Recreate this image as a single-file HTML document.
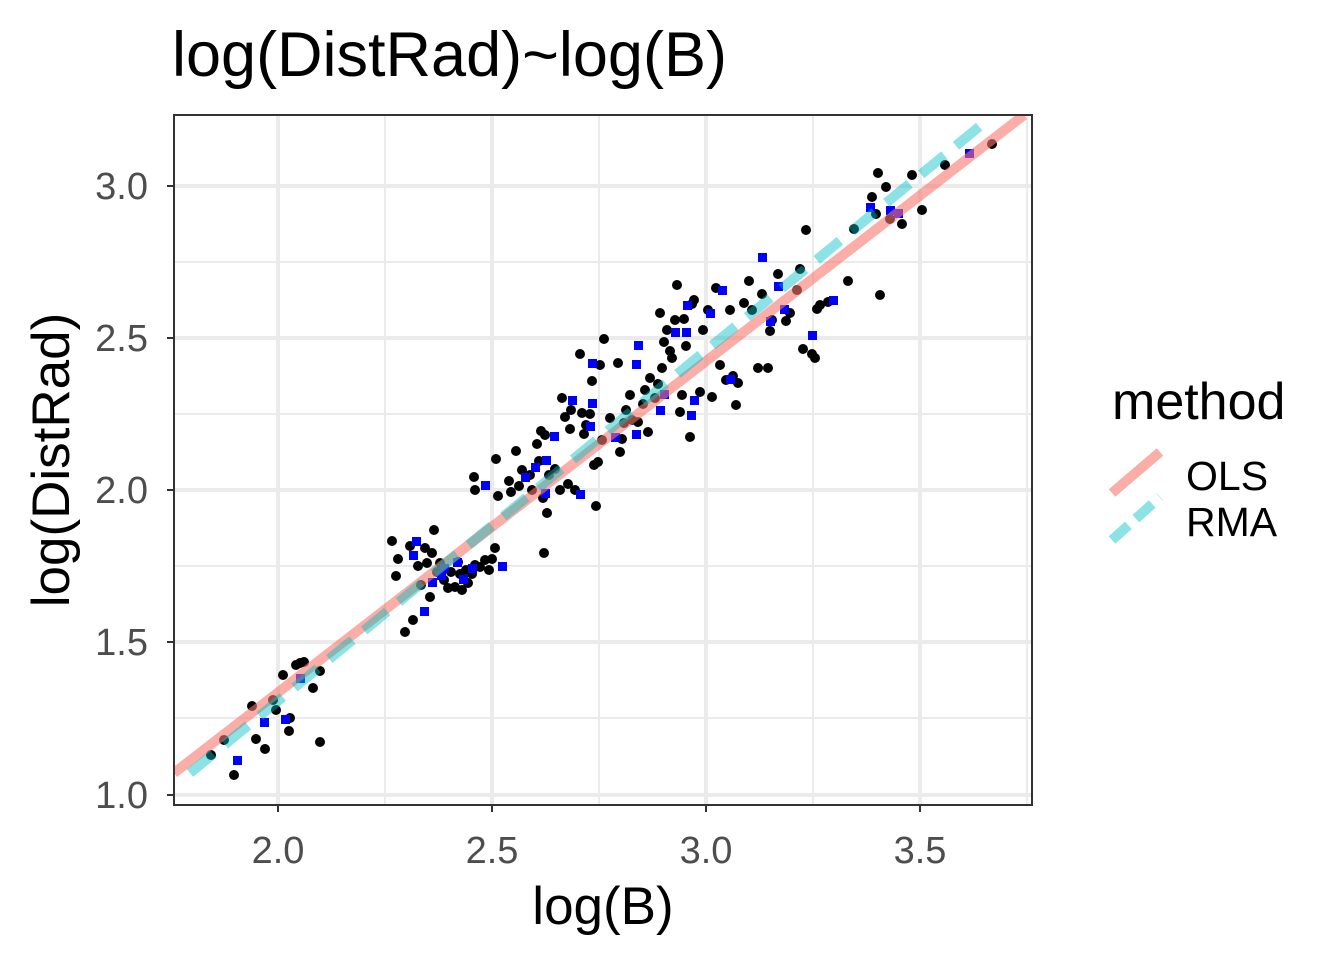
<!DOCTYPE html>
<html><head><style>body{margin:0;background:#fff}svg{display:block}text{font-family:"Liberation Sans",Arial,sans-serif}</style></head><body>
<svg width="1344" height="960" xmlns="http://www.w3.org/2000/svg">
<rect width="1344" height="960" fill="#fff"/>
<text x="172" y="76" font-size="63" fill="#000">log(DistRad)~log(B)</text>
<g stroke="#ebebeb" stroke-width="2">
<line x1="385" y1="115" x2="385" y2="805"/><line x1="599" y1="115" x2="599" y2="805"/><line x1="813" y1="115" x2="813" y2="805"/><line x1="1027" y1="115" x2="1027" y2="805"/>
<line x1="174" y1="262" x2="1032" y2="262"/><line x1="174" y1="414" x2="1032" y2="414"/><line x1="174" y1="566" x2="1032" y2="566"/><line x1="174" y1="718" x2="1032" y2="718"/>
</g>
<g stroke="#ebebeb" stroke-width="4">
<line x1="278" y1="115" x2="278" y2="805"/><line x1="492" y1="115" x2="492" y2="805"/><line x1="706" y1="115" x2="706" y2="805"/><line x1="920" y1="115" x2="920" y2="805"/>
<line x1="174" y1="186" x2="1032" y2="186"/><line x1="174" y1="338" x2="1032" y2="338"/><line x1="174" y1="490" x2="1032" y2="490"/><line x1="174" y1="642" x2="1032" y2="642"/><line x1="174" y1="795" x2="1032" y2="795"/>
</g>
<g fill="#000">
<circle cx="211" cy="755" r="5"/><circle cx="224" cy="740" r="5"/><circle cx="234" cy="775" r="5"/><circle cx="252" cy="706" r="5"/><circle cx="256" cy="739" r="5"/><circle cx="265" cy="749" r="5"/><circle cx="273" cy="700" r="5"/><circle cx="276" cy="710" r="5"/><circle cx="283" cy="675" r="5"/><circle cx="289" cy="731" r="5"/><circle cx="290" cy="718" r="5"/><circle cx="296" cy="665" r="5"/><circle cx="300" cy="663" r="5"/><circle cx="304" cy="662" r="5"/><circle cx="313" cy="688" r="5"/><circle cx="320" cy="671" r="5"/><circle cx="320" cy="742" r="5"/><circle cx="392" cy="541" r="5"/><circle cx="398" cy="559" r="5"/><circle cx="396" cy="576" r="5"/><circle cx="405" cy="632" r="5"/><circle cx="410" cy="546" r="5"/><circle cx="413" cy="620" r="5"/><circle cx="418" cy="566" r="5"/><circle cx="421" cy="585" r="5"/><circle cx="425" cy="548" r="5"/><circle cx="427" cy="563" r="5"/><circle cx="430" cy="597" r="5"/><circle cx="434" cy="530" r="5"/><circle cx="432" cy="553" r="5"/><circle cx="437" cy="572" r="5"/><circle cx="440" cy="563" r="5"/><circle cx="444" cy="580" r="5"/><circle cx="448" cy="588" r="5"/><circle cx="451" cy="572" r="5"/><circle cx="455" cy="587" r="5"/><circle cx="458" cy="562" r="5"/><circle cx="460" cy="574" r="5"/><circle cx="462" cy="590" r="5"/><circle cx="466" cy="570" r="5"/><circle cx="468" cy="583" r="5"/><circle cx="472" cy="574" r="5"/><circle cx="475" cy="565" r="5"/><circle cx="480" cy="567" r="5"/><circle cx="485" cy="560" r="5"/><circle cx="489" cy="570" r="5"/><circle cx="492" cy="559" r="5"/><circle cx="495" cy="548" r="5"/><circle cx="474" cy="477" r="5"/><circle cx="475" cy="490" r="5"/><circle cx="496" cy="459" r="5"/><circle cx="498" cy="496" r="5"/><circle cx="509" cy="481" r="5"/><circle cx="511" cy="492" r="5"/><circle cx="516" cy="451" r="5"/><circle cx="519" cy="486" r="5"/><circle cx="522" cy="470" r="5"/><circle cx="530" cy="475" r="5"/><circle cx="532" cy="490" r="5"/><circle cx="537" cy="444" r="5"/><circle cx="539" cy="461" r="5"/><circle cx="541" cy="431" r="5"/><circle cx="543" cy="498" r="5"/><circle cx="545" cy="435" r="5"/><circle cx="547" cy="513" r="5"/><circle cx="549" cy="475" r="5"/><circle cx="555" cy="469" r="5"/><circle cx="560" cy="490" r="5"/><circle cx="544" cy="553" r="5"/><circle cx="562" cy="398" r="5"/><circle cx="565" cy="417" r="5"/><circle cx="568" cy="484" r="5"/><circle cx="570" cy="429" r="5"/><circle cx="571" cy="410" r="5"/><circle cx="575" cy="490" r="5"/><circle cx="580" cy="354" r="5"/><circle cx="582" cy="413" r="5"/><circle cx="584" cy="434" r="5"/><circle cx="586" cy="425" r="5"/><circle cx="590" cy="414" r="5"/><circle cx="592" cy="381" r="5"/><circle cx="594" cy="465" r="5"/><circle cx="596" cy="506" r="5"/><circle cx="598" cy="462" r="5"/><circle cx="600" cy="365" r="5"/><circle cx="602" cy="440" r="5"/><circle cx="604" cy="339" r="5"/><circle cx="610" cy="418" r="5"/><circle cx="618" cy="363" r="5"/><circle cx="620" cy="452" r="5"/><circle cx="622" cy="439" r="5"/><circle cx="624" cy="423" r="5"/><circle cx="626" cy="410" r="5"/><circle cx="630" cy="395" r="5"/><circle cx="632" cy="420" r="5"/><circle cx="638" cy="422" r="5"/><circle cx="643" cy="404" r="5"/><circle cx="645" cy="390" r="5"/><circle cx="648" cy="432" r="5"/><circle cx="650" cy="378" r="5"/><circle cx="655" cy="398" r="5"/><circle cx="658" cy="384" r="5"/><circle cx="660" cy="313" r="5"/><circle cx="662" cy="368" r="5"/><circle cx="664" cy="342" r="5"/><circle cx="667" cy="330" r="5"/><circle cx="670" cy="351" r="5"/><circle cx="672" cy="358" r="5"/><circle cx="675" cy="320" r="5"/><circle cx="677" cy="285" r="5"/><circle cx="680" cy="412" r="5"/><circle cx="682" cy="395" r="5"/><circle cx="684" cy="319" r="5"/><circle cx="686" cy="346" r="5"/><circle cx="690" cy="437" r="5"/><circle cx="692" cy="304" r="5"/><circle cx="694" cy="300" r="5"/><circle cx="700" cy="392" r="5"/><circle cx="703" cy="330" r="5"/><circle cx="708" cy="310" r="5"/><circle cx="712" cy="397" r="5"/><circle cx="716" cy="288" r="5"/><circle cx="720" cy="365" r="5"/><circle cx="726" cy="380" r="5"/><circle cx="730" cy="310" r="5"/><circle cx="733" cy="376" r="5"/><circle cx="736" cy="405" r="5"/><circle cx="738" cy="383" r="5"/><circle cx="744" cy="303" r="5"/><circle cx="749" cy="281" r="5"/><circle cx="752" cy="310" r="5"/><circle cx="758" cy="368" r="5"/><circle cx="762" cy="294" r="5"/><circle cx="768" cy="368" r="5"/><circle cx="770" cy="331" r="5"/><circle cx="772" cy="320" r="5"/><circle cx="778" cy="274" r="5"/><circle cx="786" cy="321" r="5"/><circle cx="790" cy="313" r="5"/><circle cx="797" cy="290" r="5"/><circle cx="800" cy="269" r="5"/><circle cx="803" cy="349" r="5"/><circle cx="806" cy="230" r="5"/><circle cx="812" cy="354" r="5"/><circle cx="815" cy="358" r="5"/><circle cx="817" cy="309" r="5"/><circle cx="820" cy="305" r="5"/><circle cx="828" cy="302" r="5"/><circle cx="848" cy="281" r="5"/><circle cx="854" cy="229" r="5"/><circle cx="872" cy="197" r="5"/><circle cx="876" cy="214" r="5"/><circle cx="878" cy="173" r="5"/><circle cx="880" cy="295" r="5"/><circle cx="886" cy="187" r="5"/><circle cx="890" cy="219" r="5"/><circle cx="902" cy="224" r="5"/><circle cx="912" cy="175" r="5"/><circle cx="922" cy="210" r="5"/><circle cx="945" cy="165" r="5"/><circle cx="992" cy="144" r="5"/>
</g>
<g fill="#0000ff">
<rect x="233" y="756" width="9" height="9"/><rect x="260" y="718" width="9" height="9"/><rect x="281" y="715" width="9" height="9"/><rect x="296" y="674" width="9" height="9"/><rect x="412" y="537" width="9" height="9"/><rect x="409" y="551" width="9" height="9"/><rect x="420" y="607" width="9" height="9"/><rect x="428" y="578" width="9" height="9"/><rect x="437" y="571" width="9" height="9"/><rect x="440" y="564" width="9" height="9"/><rect x="453" y="558" width="9" height="9"/><rect x="459" y="575" width="9" height="9"/><rect x="468" y="564" width="9" height="9"/><rect x="498" y="562" width="9" height="9"/><rect x="481" y="481" width="9" height="9"/><rect x="521" y="473" width="9" height="9"/><rect x="531" y="463" width="9" height="9"/><rect x="542" y="456" width="9" height="9"/><rect x="541" y="489" width="9" height="9"/><rect x="550" y="432" width="9" height="9"/><rect x="568" y="396" width="9" height="9"/><rect x="576" y="490" width="9" height="9"/><rect x="588" y="359" width="9" height="9"/><rect x="588" y="399" width="9" height="9"/><rect x="586" y="422" width="9" height="9"/><rect x="611" y="433" width="9" height="9"/><rect x="632" y="430" width="9" height="9"/><rect x="632" y="360" width="9" height="9"/><rect x="634" y="341" width="9" height="9"/><rect x="656" y="406" width="9" height="9"/><rect x="660" y="390" width="9" height="9"/><rect x="671" y="328" width="9" height="9"/><rect x="682" y="328" width="9" height="9"/><rect x="683" y="301" width="9" height="9"/><rect x="687" y="411" width="9" height="9"/><rect x="690" y="396" width="9" height="9"/><rect x="706" y="309" width="9" height="9"/><rect x="718" y="286" width="9" height="9"/><rect x="726" y="375" width="9" height="9"/><rect x="758" y="253" width="9" height="9"/><rect x="766" y="317" width="9" height="9"/><rect x="774" y="282" width="9" height="9"/><rect x="780" y="305" width="9" height="9"/><rect x="808" y="331" width="9" height="9"/><rect x="829" y="296" width="9" height="9"/><rect x="866" y="203" width="9" height="9"/><rect x="886" y="206" width="9" height="9"/><rect x="894" y="209" width="9" height="9"/><rect x="965" y="149" width="9" height="9"/>
</g>
<svg x="174" y="115" width="858" height="690">
<line x1="0" y1="658" x2="850" y2="0" stroke="#f8766d" stroke-opacity="0.6" stroke-width="10"/>
<line x1="16" y1="658" x2="811" y2="7" stroke="#00bfc4" stroke-opacity="0.45" stroke-width="10" stroke-dasharray="30 15"/>
</svg>
<rect x="174" y="115" width="858" height="690" fill="none" stroke="#333" stroke-width="2"/>
<g stroke="#333" stroke-width="2">
<line x1="278" y1="805" x2="278" y2="812"/><line x1="492" y1="805" x2="492" y2="812"/><line x1="706" y1="805" x2="706" y2="812"/><line x1="920" y1="805" x2="920" y2="812"/>
<line x1="167" y1="186" x2="174" y2="186"/><line x1="167" y1="338" x2="174" y2="338"/><line x1="167" y1="490" x2="174" y2="490"/><line x1="167" y1="642" x2="174" y2="642"/><line x1="167" y1="795" x2="174" y2="795"/>
</g>
<g font-size="38" fill="#4d4d4d" text-anchor="middle">
<text x="278" y="863">2.0</text><text x="492" y="863">2.5</text><text x="706" y="863">3.0</text><text x="920" y="863">3.5</text>
</g>
<g font-size="38" fill="#4d4d4d" text-anchor="end">
<text x="148" y="199">3.0</text><text x="148" y="351">2.5</text><text x="148" y="503">2.0</text><text x="148" y="655">1.5</text><text x="148" y="808">1.0</text>
</g>
<text x="603" y="924" font-size="53" text-anchor="middle">log(B)</text>
<text transform="translate(69,460) rotate(-90)" font-size="53" text-anchor="middle">log(DistRad)</text>
<text x="1112" y="419" font-size="52">method</text>
<line x1="1112" y1="493" x2="1160" y2="452" stroke="#f8766d" stroke-opacity="0.6" stroke-width="10"/>
<line x1="1112" y1="540" x2="1160" y2="497" stroke="#00bfc4" stroke-opacity="0.45" stroke-width="10" stroke-dasharray="22 10"/>
<text x="1186" y="490" font-size="41">OLS</text>
<text x="1186" y="536" font-size="41">RMA</text>
</svg>
</body></html>
